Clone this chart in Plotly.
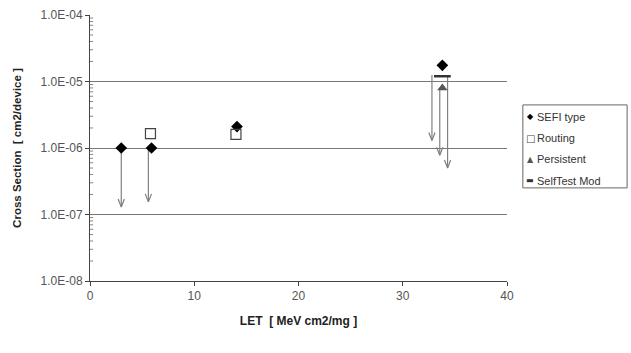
import plotly.graph_objects as go

# ---- data ----
let_sefi = [3.0, 5.9, 14.1, 33.8]
cs_sefi = [1.0e-6, 1.0e-6, 2.1e-6, 1.75e-5]
let_routing = [5.8, 14.0]
cs_routing = [1.65e-6, 1.6e-6]
let_persist = [33.8]
cs_persist = [8.0e-6]
let_selftest = [33.8]
cs_selftest = [1.2e-5]
# upper-limit arrows
arrow_x = [3.0, 5.6, 32.8, 33.55, 34.3]
arrow_top = [1.0e-6, 1.0e-6, 1.25e-5, 8.0e-6, 1.2e-5]
arrow_tip = [1.3e-7, 1.55e-7, 1.3e-6, 7.8e-7, 5.0e-7]

ytick_vals = [1e-8, 1e-7, 1e-6, 1e-5, 1e-4]
ytick_text = ["1.0E-08", "1.0E-07", "1.0E-06", "1.0E-05", "1.0E-04"]
xtick_vals = [0, 10, 20, 30, 40]
legend_names = ["SEFI type", "Routing", "Persistent", "SelfTest Mod"]
legend_glyphs = ["◆", "□", "▲", "▬"]

FONT = "Arial, Liberation Sans, sans-serif"
fig = go.Figure()

# minor y ticks (inside), derived from decade structure of the axis
minor_vals = [k * 10.0 ** e for e in range(-8, -4) for k in range(2, 10)]
mt_x, mt_y = [], []
for v in minor_vals:
    mt_x += [0, 0.3, None]
    mt_y += [v, v, None]
fig.add_trace(go.Scatter(x=mt_x, y=mt_y, mode="lines", line=dict(color="#888", width=1),
                         showlegend=False, hoverinfo="skip"))

# arrows (lines + open V heads), computed from data
ax_x, ax_y = [], []
head_dx = 0.3
head_dlog = 0.12
for x, top, tip in zip(arrow_x, arrow_top, arrow_tip):
    ax_x += [x, x, None]
    ax_y += [top, tip, None]
    up = tip * 10 ** head_dlog
    ax_x += [x - head_dx, x, x + head_dx, None]
    ax_y += [up, tip, up, None]
fig.add_trace(go.Scatter(x=ax_x, y=ax_y, mode="lines", line=dict(color="#808080", width=1.2),
                         showlegend=False, hoverinfo="skip"))

styles = [
    dict(symbol="diamond", size=9, color="black"),
    dict(symbol="square-open", size=10, color="#444", line=dict(width=1.2, color="#444")),
    dict(symbol="triangle-up", size=9, color="#555"),
    dict(symbol="line-ew", size=12, color="black", line=dict(width=2.5, color="#333")),
]
series = [(let_sefi, cs_sefi), (let_routing, cs_routing),
          (let_persist, cs_persist), (let_selftest, cs_selftest)]
for (xs, ys), st, nm in zip(series, styles, legend_names):
    fig.add_trace(go.Scatter(x=xs, y=ys, mode="markers", name=nm, marker=st,
                             showlegend=False))

# custom legend
leg_x0, leg_x1, leg_y0, leg_y1 = 1.038, 1.288, 0.35, 0.662
item_y = [0.617, 0.537, 0.457, 0.377]
sym_x = 1.056
txt_x = 1.066
glyph_sizes = [8, 10, 8, 8]
glyph_colors = ["black", "#444", "#555", "#333"]
fig.add_shape(type="rect", xref="paper", yref="paper", x0=leg_x0, x1=leg_x1,
              y0=leg_y0, y1=leg_y1, line=dict(color="#666", width=1), fillcolor="white")
for yy, g, gs, gc, nm in zip(item_y, legend_glyphs, glyph_sizes, glyph_colors, legend_names):
    fig.add_annotation(x=sym_x, y=yy, xref="paper", yref="paper", text=g, showarrow=False,
                       xanchor="center", yanchor="middle",
                       font=dict(family="DejaVu Sans", size=gs, color=gc))
    fig.add_annotation(x=txt_x, y=yy, xref="paper", yref="paper", text=nm, showarrow=False,
                       xanchor="left", yanchor="middle",
                       font=dict(family=FONT, size=11, color="#333"))

fig.update_layout(
    width=631, height=353,
    margin=dict(l=90, r=124, t=15, b=72, autoexpand=False),
    plot_bgcolor="white", paper_bgcolor="white",
    font=dict(family=FONT, size=12, color="#555"),
    showlegend=False,
    xaxis=dict(range=[0, 40], tickvals=xtick_vals, ticks="outside", ticklen=4,
               showline=True, linecolor="#444", linewidth=1, showgrid=False,
               zeroline=False, tickcolor="#444",
               tickfont=dict(size=12, color="#555"),
               title=dict(text="<b>LET  [ MeV cm2/mg ]</b>", font=dict(size=12, color="#222"),
                          standoff=14)),
    yaxis=dict(type="log", range=[-8, -4], tickvals=ytick_vals, ticktext=ytick_text,
               ticks="outside", ticklen=4, tickcolor="#444",
               showline=True, linecolor="#444", linewidth=1,
               tickfont=dict(size=12, color="#555"),
               showgrid=True, gridcolor="#777", gridwidth=1, zeroline=False,
               title=dict(text="<b>Cross Section  [ cm2/device ]</b>",
                          font=dict(size=11.5, color="#222"), standoff=16)),
)

fig.write_html("out.html")
